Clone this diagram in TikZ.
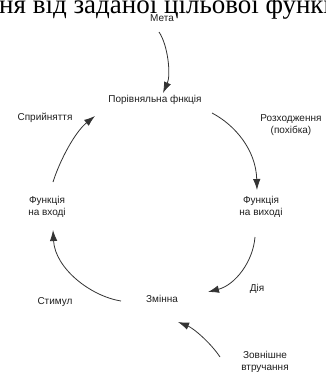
\documentclass[tikz,border=0pt]{standalone}
\usepackage{xcolor}
\usepackage{tikz}
\usepackage{fontspec}
\setmainfont{Liberation Sans}
\newfontfamily\headfont{Liberation Serif}
\usetikzlibrary{arrows.meta}
\definecolor{loopgray}{HTML}{333333}
\definecolor{labelblack}{HTML}{1E1E1E}

\tikzset{
  lbl/.style={font=\fontsize{10}{12}\selectfont, text=labelblack, align=center, inner sep=1pt},
  looparrow/.style={draw=loopgray, line width=0.8pt, -{Latex[length=11pt,width=7.5pt]}}
}

\begin{document}
\begin{tikzpicture}[x=1pt, y=-1pt]
  \useasboundingbox (0,0) rectangle (326,372);

  % Heading line, cut by the page edge
  \node[anchor=base west, inner sep=0pt, font=\headfont\fontsize{27}{27}\selectfont] (heading) at (-1,13.5) {ня від заданої цільової функції};

  % Loop nodes
  \node[lbl] (meta) at (162,18) {Мета};
  \node[lbl] (porivn) at (155,100) {Порівняльна фнкція};
  \node[lbl] (vyhid) at (261,207) {Функція\\на виході};
  \node[lbl] (zminna) at (162,299) {Змінна};
  \node[lbl] (vhid) at (47,207) {Функція\\на вході};
  \node[lbl] (zovn) at (265,362) {Зовнішне\\втручання};

  % Labels beside the arrows
  \node[lbl] (spryin) at (45,118) {Сприйняття};
  \node[lbl] (rozh) at (291,125) {Розходження\\(похібка)};
  \node[lbl] (dia) at (257,289) {Дія};
  \node[lbl] (stymul) at (55,302) {Стимул};

  % Feedback loop
  \draw[looparrow] ([shift={(-3,14)}]meta.center) .. controls +(9,13) and +(8,-18) .. ([shift={(8,-7)}]porivn.center);
  \draw[looparrow] ([shift={(57,13)}]porivn.center) .. controls +(23,12) and +(-1,-40) .. ([shift={(-4,-17)}]vyhid.center);
  \draw[looparrow] ([shift={(-6,30)}]vyhid.center) .. controls +(-2,25) and +(27,-7) .. ([shift={(46,-7)}]zminna.center);
  \draw[looparrow] ([shift={(-41,2)}]zminna.center) .. controls +(-31,-5) and +(2,38) .. ([shift={(6,23)}]vhid.center);
  \draw[looparrow] ([shift={(6,-25)}]vhid.center) .. controls +(7,-22) and +(-20,16) .. ([shift={(-60,16)}]porivn.center);

  % Disturbance
  \draw[looparrow] ([shift={(-45,-5)}]zovn.center) .. controls +(-10,-15) and +(15,6) .. ([shift={(16,23)}]zminna.center);
\end{tikzpicture}
\end{document}
